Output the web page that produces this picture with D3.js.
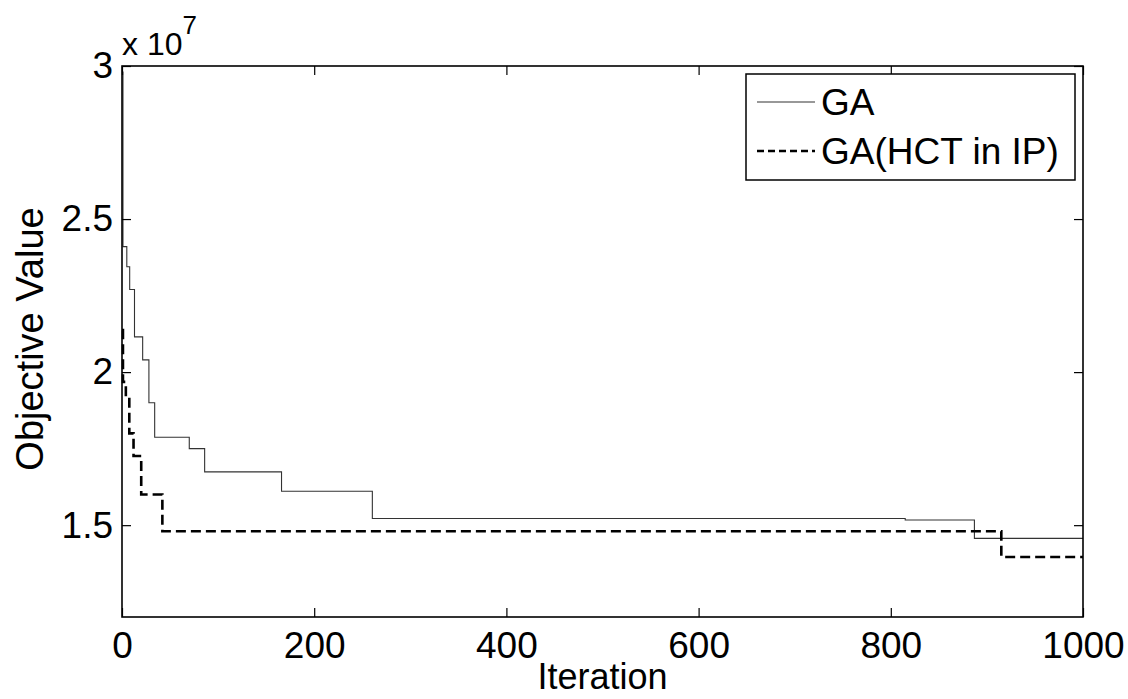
<!DOCTYPE html>
<html>
<head>
<meta charset="utf-8">
<script src="https://cdn.jsdelivr.net/npm/d3@7"></script>
<style>
  body { margin: 0; background: #fff; }
  svg text { font-family: Arial, "Liberation Sans", Helvetica, sans-serif; fill: #000; }
</style>
</head>
<body>
<svg id="chart"></svg>
<script>
// data (objective value in units of 1e7)
var gaIter  = [0, 1, 5, 8, 13, 21.5, 28, 34, 70, 86, 166, 260.5, 815, 887, 1000];
var gaValue = [2.98, 2.41, 2.344, 2.27, 2.115, 2.04, 1.90, 1.787, 1.75, 1.674, 1.611, 1.522, 1.517, 1.457, 1.457];

var hctIter  = [0, 1, 4, 7.6, 12, 20, 42, 915, 1000];
var hctValue = [2.137, 1.968, 1.916, 1.80, 1.726, 1.60, 1.48, 1.396, 1.396];

var xTicks = [0, 200, 400, 600, 800, 1000];
var yTicks = [1.5, 2, 2.5, 3];
var yTickLabels = ["1.5", "2", "2.5", "3"];
var seriesNames = ["GA", "GA(HCT in IP)"];

// chart dimensions
var width = 1128,
    height = 699,
    margin = {top: 66, right: 45, bottom: 82, left: 122};

var plotW = width - margin.left - margin.right,
    plotH = height - margin.top - margin.bottom;

var chart = d3.select('#chart')
    .attr('width', width)
    .attr('height', height);

var xScale = d3.scaleLinear().domain([0, 1000]).range([0, plotW]);
var yScale = d3.scaleLinear().domain([1.2, 3]).range([plotH, 0]);

var g = chart.append('g')
    .attr('transform', 'translate(' + margin.left + ',' + margin.top + ')');

// step lines
var line = d3.line()
    .x(function(d) { return xScale(d[0]); })
    .y(function(d) { return yScale(d[1]); })
    .curve(d3.curveStepAfter);

var gaData = gaIter.map(function(v, i) { return [v, gaValue[i]]; });
var hctData = hctIter.map(function(v, i) { return [v, hctValue[i]]; });

g.append('path')
    .datum(gaData)
    .attr('d', line)
    .attr('fill', 'none')
    .attr('stroke', '#333')
    .attr('stroke-width', 1.1);

g.append('path')
    .datum(hctData)
    .attr('d', line)
    .attr('fill', 'none')
    .attr('stroke', '#000')
    .attr('stroke-width', 2.6)
    .attr('stroke-dasharray', '10,5');

// axes - ticks inside on all four sides, like a boxed matlab plot
var tickLen = 9;
var fontSize = 37;

var xBottom = g.append('g')
    .attr('transform', 'translate(0,' + plotH + ')')
    .call(d3.axisBottom(xScale).tickValues(xTicks).tickSizeInner(-tickLen).tickSizeOuter(0)
        .tickFormat(d3.format('d')));
var xTop = g.append('g')
    .call(d3.axisTop(xScale).tickValues(xTicks).tickSizeInner(-tickLen).tickSizeOuter(0).tickFormat(''));
var yLeft = g.append('g')
    .call(d3.axisLeft(yScale).tickValues(yTicks).tickSizeInner(-tickLen).tickSizeOuter(0)
        .tickFormat(function(d, i) { return yTickLabels[i]; }));
var yRight = g.append('g')
    .attr('transform', 'translate(' + plotW + ',0)')
    .call(d3.axisRight(yScale).tickValues(yTicks).tickSizeInner(-tickLen).tickSizeOuter(0).tickFormat(''));

[xBottom, xTop, yLeft, yRight].forEach(function(a) {
    a.selectAll('.domain').remove();
    a.selectAll('line').attr('stroke', '#000').attr('stroke-width', 1.2);
    a.selectAll('text')
        .style('font-size', fontSize + 'px')
        .style('font-family', 'Arial, "Liberation Sans", sans-serif')
        .attr('fill', '#000');
});
xBottom.selectAll('text').attr('dy', '0.71em').attr('y', 15);
yLeft.selectAll('text').attr('x', -9);

// box
g.append('rect')
    .attr('width', plotW)
    .attr('height', plotH)
    .attr('fill', 'none')
    .attr('stroke', '#000')
    .attr('stroke-width', 1.6);

// exponent label
var expo = chart.append('text')
    .attr('x', margin.left)
    .attr('y', 55)
    .style('font-size', '32px');
expo.append('tspan').text('x 10');
expo.append('tspan').attr('dy', -21).style('font-size', '26px').text('7');

// axis titles
chart.append('text')
    .attr('x', margin.left + plotW / 2)
    .attr('y', 689)
    .attr('text-anchor', 'middle')
    .style('font-size', '36px')
    .text('Iteration');

chart.append('text')
    .attr('transform', 'translate(43,' + 339 + ') rotate(-90)')
    .attr('text-anchor', 'middle')
    .style('font-size', '38px')
    .text('Objective Value');

// legend
var legend = chart.append('g').attr('transform', 'translate(746,74)');
legend.append('rect')
    .attr('width', 329)
    .attr('height', 106)
    .attr('fill', '#fff')
    .attr('stroke', '#000')
    .attr('stroke-width', 1.5);

var legendStyles = [
    {stroke: '#333', width: 1.1, dash: null},
    {stroke: '#000', width: 2.6, dash: '7,4'}
];

seriesNames.forEach(function(name, i) {
    var ly = 28 + i * 49;
    legend.append('line')
        .attr('x1', 11).attr('x2', 69)
        .attr('y1', ly).attr('y2', ly)
        .attr('stroke', legendStyles[i].stroke)
        .attr('stroke-width', legendStyles[i].width)
        .attr('stroke-dasharray', legendStyles[i].dash);
    legend.append('text')
        .attr('x', 75)
        .attr('y', ly + 13)
        .style('font-size', '37px')
        .text(name);
});
</script>
</body>
</html>
